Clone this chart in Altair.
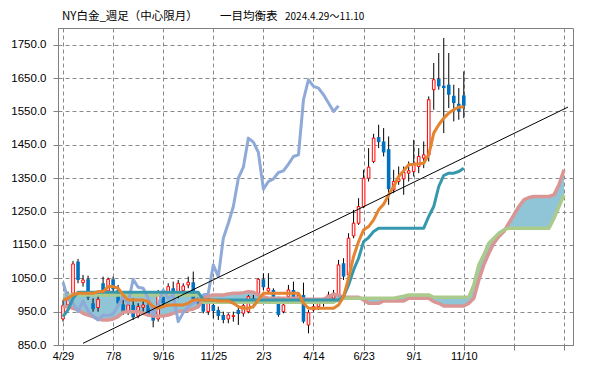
import json
import altair as alt
import pandas as pd

title_parts = ["NY白金_週足（中心限月）", "一目均衡表", "2024.4.29～11.10"]
x_label_text = ["4/29", "7/8", "9/16", "11/25", "2/3", "4/14", "6/23", "9/1", "11/10", "", ""]
x_tick_pos = [0, 10, 20, 30, 40, 50, 60, 70, 80, 90, 100]
y_tick_vals = [850, 950, 1050, 1150, 1250, 1350, 1450, 1550, 1650, 1750]

# weekly candles, index 0 = 2024/4/29 ... 80 = 2025/11/10
open_ = [928, 970, 1005, 1100, 1037, 1047, 975, 962, 1035, 1012,
         1047, 1015, 972, 950, 970, 937, 963, 970, 945, 928,
         995, 1005, 1020, 1010, 1013, 1030, 1038, 990, 988, 950,
         970, 955, 940, 928, 935, 955, 945, 950, 990, 1005,
         1047, 1012, 1015, 980, 950, 995, 1015, 990, 1000, 910,
         955, 965, 975, 985, 990, 1000, 1095, 1060, 1177, 1215,
         1265, 1350, 1400, 1473, 1460, 1437, 1315, 1340, 1348, 1365,
         1370, 1385, 1410, 1420, 1615, 1647, 1627, 1630, 1597, 1573,
         1598]
close = [968, 1000, 1093, 1045, 1045, 992, 958, 987, 1012, 1047,
         1017, 975, 948, 970, 933, 965, 970, 940, 923, 1010,
         975, 1025, 1000, 1035, 1027, 1038, 987, 975, 950, 982,
         952, 937, 925, 940, 938, 943, 968, 995, 975, 1047,
         1023, 1020, 990, 940, 970, 1015, 990, 1000, 920, 947,
         965, 975, 985, 1000, 1005, 1090, 1055, 1170, 1215, 1265,
         1350, 1383, 1470, 1458, 1427, 1317, 1340, 1348, 1367, 1372,
         1392, 1415, 1420, 1585, 1645, 1625, 1620, 1600, 1575, 1550,
         1567]
high = [985, 1010, 1102, 1108, 1060, 1058, 990, 1000, 1055, 1052,
        1055, 1030, 985, 980, 990, 975, 985, 985, 955, 1015,
        1010, 1035, 1040, 1045, 1035, 1055, 1070, 1000, 1000, 990,
        985, 965, 950, 945, 950, 965, 975, 1000, 1000, 1050,
        1065, 1065, 1020, 995, 975, 1030, 1040, 1005, 1037, 955,
        975, 985, 990, 1010, 1015, 1105, 1110, 1185, 1255, 1290,
        1375, 1440, 1483, 1510, 1500, 1475, 1375, 1385, 1385, 1400,
        1465, 1440, 1460, 1595, 1695, 1725, 1770, 1725, 1630, 1620,
        1670]
low = [920, 955, 1000, 1035, 1025, 985, 950, 950, 1000, 1005,
       1010, 970, 940, 940, 925, 930, 950, 935, 903, 920,
       965, 995, 990, 990, 1000, 1020, 980, 960, 945, 940,
       930, 925, 915, 915, 920, 910, 935, 945, 960, 1000,
       1015, 1005, 985, 935, 945, 985, 985, 980, 915, 885,
       950, 955, 965, 975, 980, 995, 1045, 1050, 1170, 1210,
       1260, 1340, 1395, 1440, 1415, 1270, 1305, 1330, 1300, 1340,
       1355, 1365, 1380, 1400, 1555, 1615, 1485, 1560, 1520, 1525,
       1530]

tenkan = [985, 990, 1000, 1005, 1005, 1005, 1005, 1010, 1010, 1025,
          1025, 1020, 1000, 985, 985, 985, 985, 980, 965, 960,
          965, 970, 970, 970, 970, 975, 985, 985, 985, 985,
          985, 982, 982, 982, 975, 965, 960, 960, 965, 985,
          1005, 1005, 1005, 1005, 1005, 1005, 1005, 1005, 975, 960,
          960, 960, 960, 960, 960, 970, 995, 1050, 1115, 1160,
          1195, 1205, 1225, 1255, 1272, 1300, 1325, 1355, 1372, 1390,
          1392, 1393, 1395, 1420, 1485, 1510, 1530, 1545, 1555, 1563,
          1563]
kijun = [935, 955, 990, 1008, 1008, 1008, 1008, 1008, 1008, 1008,
         1008, 1008, 1008, 1008, 1008, 1008, 1008, 1008, 1008, 1008,
         1008, 1008, 1008, 1008, 1008, 1008, 1008, 1008, 985, 985,
         985, 985, 985, 985, 985, 985, 985, 985, 985, 985,
         985, 985, 985, 985, 985, 985, 985, 985, 985, 985,
         985, 985, 985, 985, 985, 985, 995, 1030, 1075, 1110,
         1160, 1172, 1190, 1200, 1200, 1200, 1200, 1200, 1200, 1200,
         1200, 1200, 1200, 1235, 1265, 1325, 1358, 1365, 1365, 1370,
         1380]
# lagging span, plotted 25 weeks back (index 0..55)
chikou = [1038, 987, 975, 950, 982, 952, 937, 925, 940, 938,
          943, 968, 995, 975, 1047, 1023, 1020, 990, 940, 970,
          1015, 990, 1000, 920, 947, 965, 975, 985, 1000, 1005,
          1090, 1055, 1170, 1215, 1265, 1350, 1383, 1470, 1458, 1427,
          1317, 1340, 1348, 1367, 1372, 1392, 1415, 1420, 1585, 1645,
          1625, 1620, 1600, 1575, 1550, 1567]
# leading spans, index 0..100
senkou_a = [965, 965, 960, 955, 945, 940, 935, 928, 925, 925,
            928, 935, 948, 950, 950, 950, 945, 940, 937, 937,
            937, 940, 945, 950, 952, 955, 958, 965, 990, 997,
            1000, 1000, 1000, 1003, 1005, 1005, 1007, 1010, 1008, 1000,
            995, 990, 990, 990, 990, 990, 990, 990, 987, 987,
            987, 987, 987, 995, 1002, 1000, 993, 993, 993, 993,
            985, 975, 975, 975, 982, 982, 982, 982, 982, 990,
            990, 990, 990, 990, 980, 975, 967, 967, 967, 967,
            967, 975, 990, 1045, 1090, 1125, 1155, 1175, 1190, 1215,
            1240, 1265, 1285, 1292, 1295, 1295, 1295, 1295, 1300, 1330,
            1375]
senkou_b = [1000, 1000, 1000, 1000, 1000, 1000, 1000, 1000, 1000, 1000,
            1000, 1000, 1000, 1000, 1000, 1000, 1000, 1000, 1000, 1000,
            1000, 1000, 1000, 1000, 1000, 1000, 1000, 1000, 978, 978,
            978, 978, 978, 978, 978, 978, 978, 978, 978, 978,
            978, 978, 978, 978, 978, 978, 978, 978, 978, 978,
            978, 978, 978, 978, 978, 985, 990, 990, 990, 990,
            990, 990, 990, 990, 990, 990, 990, 993, 996, 1000,
            1000, 1000, 1000, 1000, 993, 993, 993, 993, 993, 993,
            993, 993, 1030, 1090, 1120, 1155, 1170, 1185, 1195, 1200,
            1200, 1200, 1200, 1200, 1200, 1200, 1200, 1200, 1230, 1265,
            1300]

trend_i = [4, 100.8]
trend_v = [855, 1563]

assert len(open_) == len(close) == len(high) == len(low) == len(tenkan) == len(kijun) == 81
assert len(senkou_a) == len(senkou_b) == 101

candles = pd.DataFrame({"i": list(range(81)), "o": open_, "c": close, "h": high, "l": low})
up = candles[candles["c"] >= candles["o"]]
down = candles[candles["c"] < candles["o"]]
lines = pd.DataFrame({"i": list(range(81)), "tenkan": tenkan, "kijun": kijun})
lag = pd.DataFrame({"i": list(range(len(chikou))), "v": chikou})
cloud = pd.DataFrame({"i": list(range(101)), "a": senkou_a, "b": senkou_b})
trend = pd.DataFrame({"i": trend_i, "v": trend_v})

xs = alt.Scale(domain=[0, 100.8], nice=False, zero=False)
ys = alt.Scale(domain=[850, 1800], nice=False, zero=False)
label_expr = json.dumps(x_label_text, ensure_ascii=False) + "[round(datum.value/10)]"
grid_col = "#8a8a8a"
xaxis = alt.Axis(values=x_tick_pos, labelExpr=label_expr, title=None, grid=True,
                 gridDash=[4, 3], gridColor=grid_col, domainColor="#808080",
                 tickColor="#808080", tickSize=5, labelFontSize=11, labelColor="#000000",
                 labelFont="Liberation Sans", labelPadding=0, labelFlush=False,
                 labelOverlap=False)
yaxis = alt.Axis(values=y_tick_vals, format=".1f", title=None, grid=True,
                 gridDash=[4, 3], gridColor=grid_col, domainColor="#808080",
                 tickColor="#808080", tickSize=5, labelFontSize=11.5, labelColor="#000000",
                 labelFont="Liberation Sans", labelPadding=7)

X = alt.X("i:Q", scale=xs, axis=xaxis)

area = alt.Chart(cloud).mark_area(color="#8FC5D7", opacity=1).encode(
    x=X, y=alt.Y("a:Q", scale=ys, axis=yaxis), y2="b:Q")

wick = alt.Chart(candles).mark_rule(color="black", strokeWidth=1).encode(
    x=X, y=alt.Y("l:Q", scale=ys, axis=yaxis), y2="h:Q")
body_up = alt.Chart(up).mark_bar(size=2.6, fill="white", stroke="#FF0000", strokeWidth=1).encode(
    x=X, y=alt.Y("o:Q", scale=ys, axis=yaxis), y2="c:Q")
body_dn = alt.Chart(down).mark_bar(size=3.6, color="#0070C0").encode(
    x=X, y=alt.Y("o:Q", scale=ys, axis=yaxis), y2="c:Q")

sa_line = alt.Chart(cloud).mark_line(color="#D99694", strokeWidth=3.5, strokeJoin="round").encode(
    x=X, y=alt.Y("a:Q", scale=ys, axis=yaxis))
sb_line = alt.Chart(cloud).mark_line(color="#ABCB8D", strokeWidth=3.5, strokeJoin="round").encode(
    x=X, y=alt.Y("b:Q", scale=ys, axis=yaxis))
lag_line = alt.Chart(lag).mark_line(color="#8FAAD8", strokeWidth=3, strokeJoin="round").encode(
    x=X, y=alt.Y("v:Q", scale=ys, axis=yaxis))
kijun_line = alt.Chart(lines).mark_line(color="#3698AC", strokeWidth=3, strokeJoin="round").encode(
    x=X, y=alt.Y("kijun:Q", scale=ys, axis=yaxis))
tenkan_line = alt.Chart(lines).mark_line(color="#E4842F", strokeWidth=3, strokeJoin="round").encode(
    x=X, y=alt.Y("tenkan:Q", scale=ys, axis=yaxis))
trend_line = alt.Chart(trend).mark_line(color="#000000", strokeWidth=1, clip=True).encode(
    x=X, y=alt.Y("v:Q", scale=ys, axis=yaxis))

def title_seg(text, xpos, size):
    return alt.Chart(pd.DataFrame({"t": [text]})).mark_text(
        align="left", baseline="middle", fontSize=size, font="Noto Sans CJK JP", color="#000000"
    ).encode(x=alt.value(xpos), y=alt.value(-11.5), text="t:N")

t1 = title_seg(title_parts[0], 4, 11.5)
t2 = title_seg(title_parts[1], 162, 11.5)
t3 = title_seg(title_parts[2], 227, 10)

chart = alt.layer(area, wick, body_up, body_dn, sa_line, sb_line, lag_line,
                  kijun_line, tenkan_line, trend_line, t1, t2, t3).properties(
    width=515, height=317,
    autosize=alt.AutoSizeParams(type="none"),
    padding={"left": 50, "top": 20, "right": 18, "bottom": 17},
    background="white",
).configure_view(stroke="#808080", strokeWidth=1)

chart.save("out.html", embed_options={"renderer": "svg", "actions": False})
